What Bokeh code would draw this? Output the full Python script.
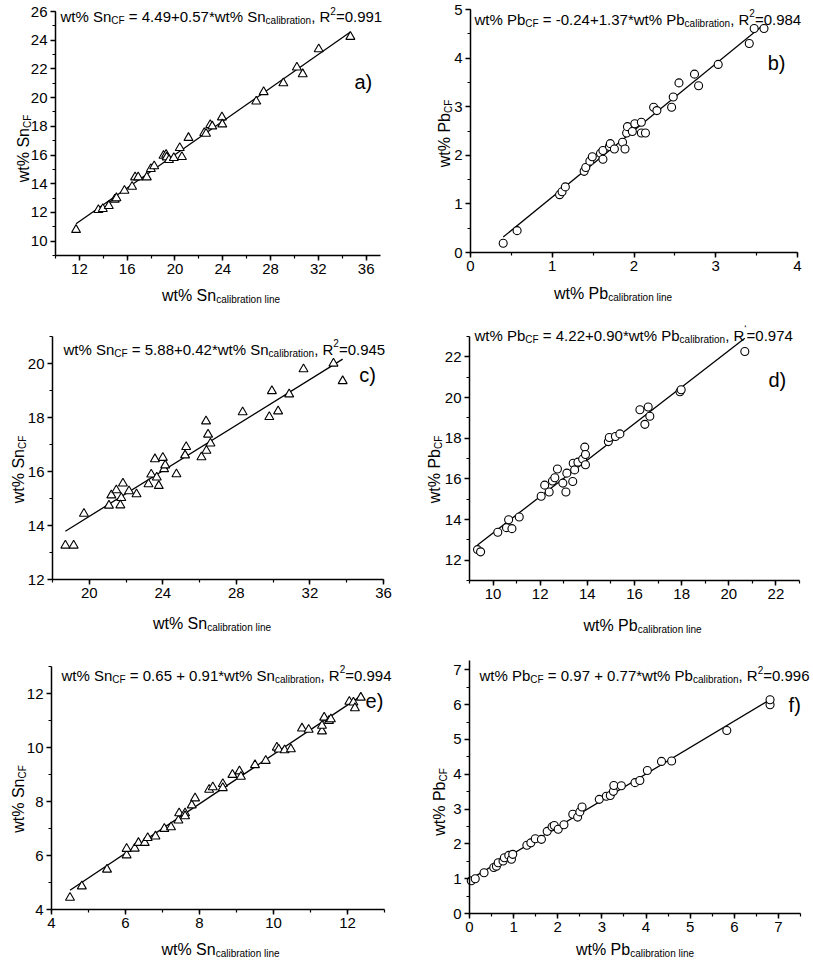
import numpy as np
from bokeh.plotting import figure
from bokeh.models import Range1d, SingleIntervalTicker, Label
from bokeh.layouts import column, row
from bokeh.embed import file_html
from bokeh.resources import INLINE

# ---------------- data ----------------
a_x = [11.72, 13.59, 13.96, 14.46, 14.96, 15.1, 15.77, 16.41, 16.66, 16.92, 17.64, 17.98, 18.26,
       19.04, 19.26, 19.3, 19.5, 19.9, 20.4, 20.58, 21.13, 22.45, 22.6, 22.95, 23.12, 23.93, 23.96,
       26.8, 27.42, 29.07, 30.2, 30.69, 32.03, 34.68]
a_y = [10.79, 12.18, 12.25, 12.46, 12.9, 13.0, 13.52, 13.8, 14.45, 14.45, 14.45, 15.03, 15.22,
       15.96, 16.03, 15.84, 15.66, 15.8, 16.5, 15.87, 17.2, 17.54, 17.49, 18.1, 18.0, 18.63, 18.14,
       19.74, 20.39, 21.01, 22.1, 21.64, 23.38, 24.24]

b_x = [0.40, 0.57, 1.09, 1.12, 1.16, 1.39, 1.41, 1.46, 1.49, 1.59, 1.62, 1.62, 1.70, 1.71, 1.76,
       1.86, 1.89, 1.91, 1.92, 1.98, 2.01, 2.09, 2.09, 2.14, 2.24, 2.28, 2.46, 2.48, 2.55, 2.74,
       2.79, 3.03, 3.41, 3.47, 3.59]
b_y = [0.19, 0.45, 1.19, 1.25, 1.35, 1.67, 1.75, 1.88, 1.97, 2.04, 2.10, 1.92, 2.18, 2.24, 2.13,
       2.27, 2.13, 2.46, 2.59, 2.49, 2.65, 2.68, 2.46, 2.46, 2.99, 2.92, 2.99, 3.20, 3.49, 3.67,
       3.43, 3.87, 4.30, 4.61, 4.61]

c_x = [18.70, 19.15, 19.71, 21.07, 21.2, 21.47, 21.74, 21.69, 21.83, 22.16, 22.57, 23.22, 23.37,
       23.57, 23.67, 23.78, 24.0, 24.07, 24.13, 24.74, 25.21, 25.27, 26.1, 26.37, 26.35, 26.46,
       26.59, 28.34, 29.79, 29.93, 30.27, 30.87, 31.65, 33.28, 33.78]
c_y = [13.26, 13.26, 14.44, 14.74, 15.12, 15.31, 15.02, 14.75, 15.56, 15.27, 15.16, 15.53, 15.89,
       16.46, 15.78, 15.47, 16.51, 16.09, 16.23, 15.90, 16.6, 16.91, 16.53, 16.77, 17.86, 17.37,
       17.04, 18.2, 18.02, 18.98, 18.23, 18.86, 19.79, 20.0, 19.35]

d_x = [9.34, 9.47, 10.2, 10.57, 10.66, 10.8, 11.11, 12.04, 12.19, 12.38, 12.52, 12.62, 12.73,
       12.96, 13.09, 13.13, 13.38, 13.4, 13.46, 13.6, 13.8, 13.89, 13.92, 13.92, 14.89, 14.93,
       15.19, 15.38, 16.23, 16.58, 16.44, 16.65, 17.93, 17.98, 20.68]
d_y = [12.52, 12.41, 13.37, 13.6, 13.99, 13.55, 14.12, 15.14, 15.69, 15.35, 15.89, 16.05, 16.48,
       15.79, 15.35, 16.28, 15.87, 16.77, 16.44, 16.82, 16.97, 17.56, 17.2, 16.69, 17.83, 18.03,
       18.08, 18.21, 19.4, 19.53, 18.68, 19.08, 20.28, 20.38, 22.26]

e_x = [4.50, 4.82, 5.50, 6.03, 6.03, 6.25, 6.35, 6.52, 6.60, 6.81, 7.05, 7.23, 7.43, 7.45, 7.61,
       7.61, 7.79, 7.88, 8.26, 8.36, 8.63, 8.63, 8.89, 9.08, 9.12, 9.5, 9.79, 10.09, 10.14, 10.3,
       10.47, 10.77, 10.95, 11.31, 11.31, 11.37, 11.5, 11.55, 12.05, 12.16, 12.2, 12.36]
e_y = [4.44, 4.86, 5.48, 6.01, 6.25, 6.26, 6.47, 6.47, 6.65, 6.71, 6.99, 7.05, 7.3, 7.57, 7.57,
       7.46, 7.86, 8.12, 8.44, 8.53, 8.65, 8.5, 8.99, 9.12, 8.92, 9.35, 9.51, 10.0, 9.93, 9.9,
       9.94, 10.71, 10.66, 10.6, 10.81, 11.11, 10.99, 11.05, 11.7, 11.67, 11.46, 11.85]

f_x = [0.04, 0.13, 0.33, 0.55, 0.61, 0.65, 0.76, 0.79, 0.89, 0.95, 0.98, 1.3, 1.39, 1.49, 1.63,
       1.76, 1.87, 1.92, 2.01, 2.14, 2.34, 2.45, 2.5, 2.55, 2.94, 3.1, 3.19, 3.26, 3.27, 3.44,
       3.75, 3.86, 4.03, 4.35, 4.58, 5.83, 6.81, 6.81]
f_y = [0.94, 1.0, 1.17, 1.32, 1.36, 1.46, 1.51, 1.6, 1.67, 1.56, 1.7, 1.96, 2.03, 2.15, 2.13,
       2.36, 2.49, 2.53, 2.42, 2.55, 2.85, 2.77, 2.92, 3.06, 3.28, 3.37, 3.39, 3.51, 3.68, 3.67,
       3.76, 3.82, 4.11, 4.37, 4.38, 5.26, 6.0, 6.14]

# axis ranges and tick intervals of each panel
a_xlim, a_ylim, a_tick = (10, 37.2), (9, 26), (4, 2)
b_xlim, b_ylim, b_tick = (0, 4), (0, 5), (1, 1)
c_xlim, c_ylim, c_tick = (18, 36), (12, 21), (4, 2)
d_xlim, d_ylim, d_tick = (9, 23), (11, 23), (2, 2)
e_xlim, e_ylim, e_tick = (4, 13), (4, 13), (2, 2)
f_xlim, f_ylim, f_tick = (0, 7.5), (0, 7.27), (1, 1)

panel_tags = ["a)", "b)", "c)", "d)", "e)", "f)"]
elements = ["Sn", "Pb", "Sn", "Pb", "Sn", "Pb"]
equations = [
    [("wt% Sn", "n"), ("CF", "sub"), (" = 4.49+0.57*wt% Sn", "n"), ("calibration", "sub"), (", R", "n"), ("2", "sup"), ("=0.991", "n")],
    [("wt% Pb", "n"), ("CF", "sub"), (" = -0.24+1.37*wt% Pb", "n"), ("calibration", "sub"), (", R", "n"), ("2", "sup"), ("=0.984", "n")],
    [("wt% Sn", "n"), ("CF", "sub"), (" = 5.88+0.42*wt% Sn", "n"), ("calibration", "sub"), (", R", "n"), ("2", "sup"), ("=0.945", "n")],
    [("wt% Pb", "n"), ("CF", "sub"), (" = 4.22+0.90*wt% Pb", "n"), ("calibration", "sub"), (", R", "n"), ("\u2018", "sup"), ("=0.974", "n")],
    [("wt% Sn", "n"), ("CF", "sub"), (" = 0.65 + 0.91*wt% Sn", "n"), ("calibration", "sub"), (", R", "n"), ("2", "sup"), ("=0.994", "n")],
    [("wt% Pb", "n"), ("CF", "sub"), (" = 0.97 + 0.77*wt% Pb", "n"), ("calibration", "sub"), (", R", "n"), ("2", "sup"), ("=0.996", "n")],
]

# ---------------- helpers ----------------
FONT = "Liberation Sans"
W_ARIAL = {' ': 278, '!': 278, '%': 889, '(': 333, ')': 333, '*': 389, '+': 584, ',': 278, '-': 333,
           '.': 278, '=': 584, 'R': 722, 'S': 667, 'P': 667, 'C': 722, 'F': 611, 'a': 556, 'b': 556,
           'c': 500, 'e': 556, 'i': 222, 'l': 222, 'n': 556, 'o': 556, 'r': 333, 't': 278, 'w': 722,
           '\u2018': 222}


def tw(s, size):
    return sum(W_ARIAL.get(ch, 556) for ch in s) * size / 1000.0


def rich(p, pieces, x, y, x_off, y_off, size, sub_size, sub_shift, sup_shift, angle=0.0, center=False):
    widths = [tw(t, size if k == "n" else sub_size) for t, k in pieces]
    pos = -sum(widths) / 2 if center else 0.0
    for (t, k), w in zip(pieces, widths):
        fs = size if k == "n" else sub_size
        lead = len(t) - len(t.lstrip(" "))
        txt = t.strip(" ")
        start = pos + tw(" " * lead, fs)
        shift = 0 if k == "n" else (-sub_shift if k == "sub" else sup_shift)
        if angle == 0:
            xo, yo = x_off + start, y_off + shift
        else:
            xo, yo = x_off - shift, y_off + start
        p.add_layout(Label(x=x, y=y, x_offset=xo, y_offset=yo, text=txt, angle=angle,
                           text_font=FONT, text_font_size=f"{fs}px", text_color="black",
                           text_align="left", text_baseline="alphabetic"))
        pos += w


def make_panel(xs, ys, marker, msize, xlim, ylim, ticks, geom,
               eq, eq_dx, eq_dy, tag, tag_fx, tag_fy, elem, xt_dx, xt_dy, yt_dx, yt_dy):
    # geom: figure width/height, and pixel box (left, width, top, height) of the axes region
    W, H, L, fw, T, fh = geom
    x0, x1 = xlim
    y0, y1 = ylim
    sx = (x1 - x0) / fw
    sy = (y1 - y0) / fh
    xr = Range1d(x0 - L * sx, x1 + (W - L - fw) * sx)
    yr = Range1d(y0 - (H - T - fh) * sy, y1 + T * sy)
    p = figure(width=W, height=H, x_range=xr, y_range=yr,
               output_backend="svg", toolbar_location=None,
               min_border_left=0, min_border_right=0, min_border_top=0, min_border_bottom=0)
    p.grid.visible = False
    p.outline_line_color = None
    p.background_fill_color = "white"
    p.border_fill_color = "white"
    p.xaxis.ticker = SingleIntervalTicker(interval=ticks[0], num_minor_ticks=2)
    p.yaxis.ticker = SingleIntervalTicker(interval=ticks[1], num_minor_ticks=2)
    p.xaxis.fixed_location = y0
    p.yaxis.fixed_location = x0
    p.xaxis.bounds = (x0, x1)
    p.yaxis.bounds = (y0, y1)
    for ax in (p.xaxis[0], p.yaxis[0]):
        ax.axis_line_width = 1.5
        ax.axis_line_color = "black"
        ax.major_tick_in = 0
        ax.major_tick_out = 5
        ax.minor_tick_in = 0
        ax.minor_tick_out = 3
        ax.major_tick_line_width = 1.5
        ax.minor_tick_line_width = 1.2
        ax.major_tick_line_color = "black"
        ax.minor_tick_line_color = "black"
        ax.major_label_text_font = FONT
        ax.major_label_text_font_size = "15px"
        ax.major_label_text_color = "black"
        ax.major_label_standoff = 3

    # fitted straight line (least squares on the data)
    slope, icpt = np.polyfit(xs, ys, 1)
    lx = np.array([min(xs), max(xs)])
    p.line(lx, icpt + slope * lx, line_color="black", line_width=1.3)
    p.scatter(xs, ys, marker=marker, size=msize, fill_color="white", line_color="black", line_width=1.1)

    # equation
    rich(p, eq, x0, y1, eq_dx, -eq_dy, 15, 10, 4, 6)
    # panel tag
    p.add_layout(Label(x=x0 + tag_fx * (x1 - x0), y=y0 + tag_fy * (y1 - y0),
                       text=tag, text_font=FONT, text_font_size="20px", text_color="black",
                       text_align="left", text_baseline="middle"))
    # x axis title
    rich(p, [(f"wt% {elem}", "n"), ("calibration line", "sub")], (x0 + x1) / 2, y0, xt_dx, -xt_dy,
         16, 10, 4, 6, center=True)
    # y axis title (rotated)
    rich(p, [(f"wt% {elem}", "n"), ("CF", "sub")], x0, (y0 + y1) / 2, yt_dx, -yt_dy,
         16, 10, 4, 6, angle=np.pi / 2, center=True)
    return p


pa = make_panel(a_x, a_y, "triangle", 9, a_xlim, a_ylim, a_tick, (406, 308, 55, 325, 11, 244),
                equations[0], 5, 5, panel_tags[0], 0.92, 0.71, elements[0], 3, 40, -32, 15)
pb = make_panel(b_x, b_y, "circle", 8, b_xlim, b_ylim, b_tick, (407, 308, 64, 327, 9, 243),
                equations[1], 4, 9.5, panel_tags[1], 0.909, 0.78, elements[1], -21, 41, -26, 2.5)
pc = make_panel(c_x, c_y, "triangle", 9, c_xlim, c_ylim, c_tick, (406, 332, 52, 331, 28, 243),
                equations[2], 11, 12.5, panel_tags[2], 0.927, 0.84, elements[2], -6, 44, -34, 11.5)
pd = make_panel(d_x, d_y, "circle", 8, d_xlim, d_ylim, d_tick, (407, 332, 63, 330, 28, 244),
                equations[3], 5, -1.3, panel_tags[3], 0.906, 0.82, elements[3], 8, 45, -35, 11)
pe = make_panel(e_x, e_y, "triangle", 9, e_xlim, e_ylim, e_tick, (406, 320, 51, 333, 26, 243),
                equations[4], 10, 8.7, panel_tags[4], 0.943, 0.857, elements[4], 2.5, 40, -33, 11)
pf = make_panel(f_x, f_y, "circle", 8, f_xlim, f_ylim, f_tick, (407, 320, 63, 331, 20, 253),
                equations[5], 10, 15.4, panel_tags[5], 0.964, 0.826, elements[5], 0, 36, -30, 15)

layout = column(row(pa, pb), row(pc, pd), row(pe, pf))

with open("out.html", "w") as fh:
    fh.write(file_html(layout, INLINE))
